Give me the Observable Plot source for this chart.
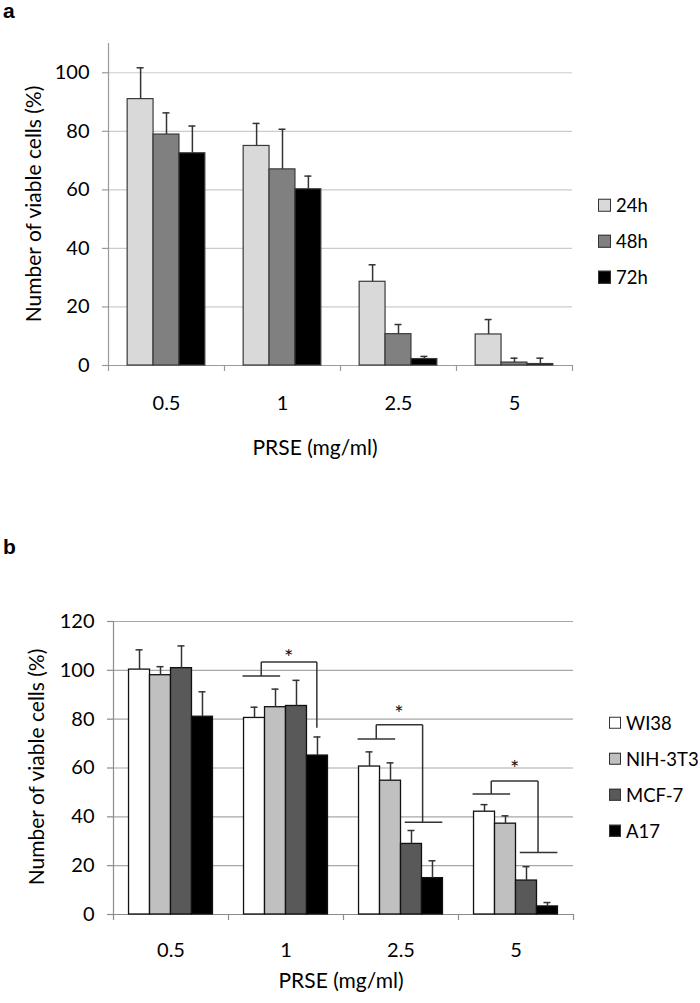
<!DOCTYPE html>
<html><head><meta charset="utf-8">
<script src="https://cdn.jsdelivr.net/npm/d3@7"></script>
<script src="https://cdn.jsdelivr.net/npm/@observablehq/plot@0.6"></script>
<style>
body{margin:0;background:#fff;font-family:Lato, "Open Sans", sans-serif;color:#000;}
#page{position:relative;width:700px;height:1003px;overflow:hidden;}
.abs{position:absolute;white-space:nowrap;line-height:1;}
.letter{font-family:"Liberation Sans", Arial, sans-serif;font-weight:bold;font-size:21px;}
.title{font-size:21px;transform:translate(-50%,-50%);}
.ytitle{font-size:21px;transform:translate(-50%,-50%) rotate(-90deg);}
.leg{font-size:18.5px;display:flex;align-items:center;transform:translateY(-50%);}
.sw{box-sizing:border-box;border:1px solid #333;margin-right:5px;}
</style></head><body><div id="page"></div>
<script>
// ---------- shared categories ----------
const doses = ["0.5", "1", "2.5", "5"];

// ---------- panel a ----------
const hoursA = ["24h", "48h", "72h"];
const a24 = [91.0, 75.0, 28.6, 10.6];
const a24err = [10.7, 7.7, 5.8, 5.1];
const a48 = [78.9, 67.0, 10.7, 1.0];
const a48err = [7.4, 13.7, 3.3, 1.5];
const a72 = [72.5, 60.2, 2.2, 0.5];
const a72err = [9.3, 4.5, 0.9, 2.0];
const colorsA = ["#d9d9d9", "#808080", "#000000"];
const yTicksA = [0, 20, 40, 60, 80, 100];

// ---------- panel b ----------
const cellsB = ["WI38", "NIH-3T3", "MCF-7", "A17"];
const bWI38 = [100.3, 80.5, 60.6, 42.1];
const bWI38err = [8.1, 4.4, 6.0, 2.9];
const bNIH = [98.0, 84.9, 54.8, 37.2];
const bNIHerr = [3.5, 7.4, 7.3, 3.2];
const bMCF = [100.9, 85.4, 28.9, 13.9];
const bMCFerr = [9.1, 10.5, 5.5, 5.7];
const bA17 = [81.0, 65.1, 14.9, 3.3];
const bA17err = [10.2, 7.6, 7.1, 1.6];
const colorsB = ["#ffffff", "#c0c0c0", "#595959", "#000000"];
const yTicksB = [0, 20, 40, 60, 80, 100, 120];

// significance brackets (panel b), y in % units, x in bar-slot units
const sigDoses = ["1", "2.5", "5"];
const sigTopY = [103.4, 77.7, 54.7];
const sigLeftY = [97.7, 71.9, 49.4];
const sigRightY = [76.5, 37.8, 25.4];
const sigStarY = [107.6, 84.7, 62.2];
const sigStarX = [2.13, 1.90, 1.94];
const sigRightLegX = [3.47, 3.03, 3.05];
const sigHasRightLine = [false, true, true];
const sigLeftLine = [-0.07, 1.72];
const sigLeftLegX = 0.82;
const sigRightLine = [2.18, 3.97];

const PAD = 0.74;

function tidy(series, values, errs) {
  const out = [];
  series.forEach((s, si) => doses.forEach((d, di) =>
    out.push({dose: d, series: s, si, value: values[si][di], err: errs[si][di]})));
  return out;
}

function panel(o) {
  const data = tidy(o.series, o.values, o.errs);
  const n = o.series.length;
  const yMax = o.yMax;
  const marks = [
    Plot.ruleY(o.yTicks.filter(v => v > 0), {stroke: o.gridColor, strokeWidth: 1.2}),
    Plot.ruleY([0], {stroke: o.axisColor, strokeWidth: 1.2}),
    Plot.ruleX([doses[0]], {fx: d => d, x: -PAD, y1: 0, y2: yMax, stroke: o.axisColor, strokeWidth: 1.2}),
    Plot.ruleX(doses, {fx: d => d, x: -PAD, y1: 0, y2: 0, insetBottom: -6, stroke: o.axisColor, strokeWidth: 1.2}),
    Plot.ruleX([doses[doses.length - 1]], {fx: d => d, x: n + PAD, y1: 0, y2: 0, insetBottom: -6, stroke: o.axisColor, strokeWidth: 1.2}),
    Plot.axisY(o.yTicks, {anchor: "left", tickSize: 6, tickPadding: 13, stroke: o.axisColor, strokeWidth: 1.2, label: null, fill: "#000"}),
    Plot.rect(data, {fx: "dose", x1: "si", x2: d => d.si + 1, y1: 0, y2: "value", fill: "series", stroke: o.barStroke, strokeWidth: o.barStrokeWidth}),
    Plot.ruleX(data, {fx: "dose", x: d => d.si + 0.5, y1: "value", y2: d => d.value + d.err, stroke: "#333", strokeWidth: 1.5}),
    Plot.ruleY(data, {fx: "dose", x1: d => d.si + 0.5, x2: d => d.si + 0.5, y: d => d.value + d.err, insetLeft: -3.5, insetRight: -3.5, stroke: "#333", strokeWidth: 1.5}),
    ...(o.extra || [])
  ];
  return Plot.plot({
    width: o.width, height: o.height,
    marginLeft: o.mL, marginRight: o.mR, marginTop: o.mT, marginBottom: o.mB,
    style: {fontFamily: "Lato, 'Open Sans', sans-serif", fontSize: "20px", color: "#000", background: "transparent", overflow: "visible"},
    fx: {domain: doses, padding: 0, axis: "bottom", label: null, tickSize: 0, tickPadding: o.fxPad},
    x: {domain: [-PAD, n + PAD], axis: null},
    y: {domain: [0, yMax], axis: null},
    color: {domain: o.series, range: o.colors},
    marks
  });
}

// bracket segments
const segs = [];
const stars = [];
sigDoses.forEach((d, i) => {
  segs.push({dose: d, x1: sigLeftLegX, x2: sigRightLegX[i], y1: sigTopY[i], y2: sigTopY[i]});
  segs.push({dose: d, x1: sigLeftLegX, x2: sigLeftLegX, y1: sigTopY[i], y2: sigLeftY[i]});
  segs.push({dose: d, x1: sigLeftLine[0], x2: sigLeftLine[1], y1: sigLeftY[i], y2: sigLeftY[i]});
  segs.push({dose: d, x1: sigRightLegX[i], x2: sigRightLegX[i], y1: sigTopY[i], y2: sigRightY[i]});
  if (sigHasRightLine[i]) segs.push({dose: d, x1: sigRightLine[0], x2: sigRightLine[1], y1: sigRightY[i], y2: sigRightY[i]});
  stars.push({dose: d, x: sigStarX[i], y: sigStarY[i]});
});

const page = document.getElementById("page");

function place(el, left, top) {
  el.style.position = "absolute";
  el.style.left = left + "px";
  el.style.top = top + "px";
  page.appendChild(el);
}

const chartA = panel({
  series: hoursA, values: [a24, a48, a72], errs: [a24err, a48err, a72err], colors: colorsA,
  yMax: 110, yTicks: yTicksA, width: 590, height: 470, mL: 107, mR: 17, mT: 43, mB: 105, fxPad: 30,
  gridColor: "#cccccc", axisColor: "#9a9a9a", barStroke: "#3a3a3a", barStrokeWidth: 1.2
});
place(chartA, 0, 0);

const chartB = panel({
  series: cellsB, values: [bWI38, bNIH, bMCF, bA17], errs: [bWI38err, bNIHerr, bMCFerr, bA17err], colors: colorsB,
  yMax: 120, yTicks: yTicksB, width: 590, height: 440, mL: 112, mR: 17, mT: 61, mB: 86, fxPad: 28,
  gridColor: "#a8a8a8", axisColor: "#8c8c8c", barStroke: "#111", barStrokeWidth: 1.3,
  extra: [
    Plot.link(segs, {fx: "dose", x1: "x1", y1: "y1", x2: "x2", y2: "y2", stroke: "#333", strokeWidth: 1.5}),
    Plot.text(stars, {fx: "dose", x: "x", y: "y", text: () => "*", fontSize: 22, dy: 6, fill: "#111"})
  ]
});
place(chartB, 0, 560);

function text(cls, str, left, top) {
  const el = document.createElement("div");
  el.className = "abs " + cls;
  el.textContent = str;
  el.style.left = left + "px";
  el.style.top = top + "px";
  page.appendChild(el);
  return el;
}

text("letter", "a", 3, 0);
text("letter", "b", 3, 536);
text("ytitle", "Number of viable cells (%)", 32, 204);
text("ytitle", "Number of viable cells (%)", 35, 767);
text("title", "PRSE (mg/ml)", 315, 446);
text("title", "PRSE (mg/ml)", 341, 979);

function legend(series, colors, left, tops, size) {
  series.forEach((s, i) => {
    const row = document.createElement("div");
    row.className = "abs leg";
    row.style.left = left + "px";
    row.style.top = tops[i] + "px";
    const sw = document.createElement("span");
    sw.className = "sw";
    sw.style.width = size + "px";
    sw.style.height = size + "px";
    sw.style.background = colors[i];
    const lab = document.createElement("span");
    lab.textContent = s;
    row.appendChild(sw);
    row.appendChild(lab);
    page.appendChild(row);
  });
}
legend(hoursA, colorsA, 598, [205, 241, 277], 13);
legend(cellsB, colorsB, 609, [723, 759, 795, 831], 12);
</script></body></html>
